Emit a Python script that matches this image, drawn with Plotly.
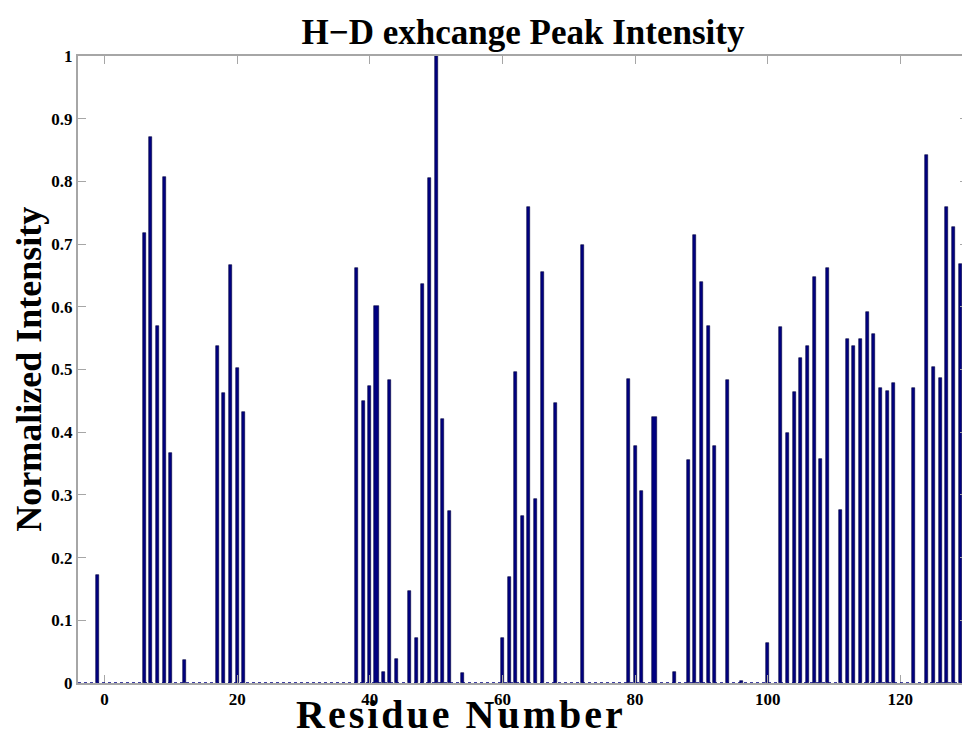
import plotly.graph_objects as go

# Residue numbers and normalized peak intensities
residues = [-1, 6, 7, 8, 9, 10, 12, 17, 18, 19, 20, 21,
            38, 39, 40, 41, 42, 43, 44, 46, 47, 48, 49, 50, 51, 52, 54,
            60, 61, 62, 63, 64, 65, 66, 68, 72, 79, 80, 81, 83, 86, 88,
            89, 90, 91, 92, 94, 96, 100, 102, 103, 104, 105, 106, 107, 108,
            109, 111, 112, 113, 114, 115, 116, 117, 118, 119, 122, 124, 125,
            126, 127, 128, 129, 130]
intensity = [0.172, 0.717, 0.871, 0.569, 0.807, 0.367, 0.036, 0.537, 0.462, 0.666, 0.502, 0.432,
             0.662, 0.449, 0.473, 0.602, 0.017, 0.483, 0.038, 0.147, 0.071, 0.637, 0.805, 1.0, 0.421, 0.274, 0.016,
             0.071, 0.169, 0.496, 0.267, 0.759, 0.293, 0.655, 0.447, 0.698, 0.485, 0.378, 0.306, 0.425, 0.017, 0.355,
             0.715, 0.640, 0.569, 0.378, 0.484, 0.003, 0.064, 0.567, 0.398, 0.464, 0.518, 0.537, 0.647, 0.357,
             0.662, 0.276, 0.548, 0.538, 0.548, 0.591, 0.557, 0.470, 0.466, 0.478, 0.470, 0.842, 0.504,
             0.487, 0.759, 0.727, 0.668, 0.267]
wide_residues = [41, 83]  # residues drawn as thicker bars in the reference

x_ticks = [0, 20, 40, 60, 80, 100, 120]
y_ticks = [0, 0.1, 0.2, 0.3, 0.4, 0.5, 0.6, 0.7, 0.8, 0.9, 1]
y_tick_labels = ["0", "0.1", "0.2", "0.3", "0.4", "0.5", "0.6", "0.7", "0.8", "0.9", "1"]

title_text = "H\u2212D exhcange Peak Intensity"
x_title = "Residue Number"
y_title = "Normalized Intensity"

FONT = "Liberation Serif, Times New Roman, serif"
AXIS_GRAY = "#a6a6a6"
widths = [0.75 if r in wide_residues else 0.45 for r in residues]

fig = go.Figure()
fig.add_trace(go.Bar(
    x=residues, y=intensity, width=widths,
    marker=dict(color="#000080", line=dict(color="#00003a", width=0.6)),
    showlegend=False,
))

# dashed baseline (zero-height bars in the original)
fig.add_shape(type="line", xref="paper", x0=0, x1=1, yref="y", y0=0, y1=0,
              line=dict(color="#000080", width=1.5, dash="3px,3px"), layer="above")

axis_common = dict(
    showline=True, linecolor=AXIS_GRAY, linewidth=2, mirror="ticks",
    ticks="inside", ticklen=8, tickwidth=1, tickcolor=AXIS_GRAY,
    showgrid=False, zeroline=False,
    tickfont=dict(family=FONT, size=17, color="black", weight="bold"),
)
fig.update_xaxes(range=[-4, 130.2], tickvals=x_ticks, ticktext=[str(t) for t in x_ticks], **axis_common)
fig.update_yaxes(range=[0, 1], tickvals=y_ticks, ticktext=y_tick_labels, **axis_common)

fig.update_layout(
    width=962, height=729,
    margin=dict(l=70, r=0, t=48, b=54),
    paper_bgcolor="white", plot_bgcolor="white",
    bargap=0,
    title=dict(text=title_text, x=0.5, xref="paper", y=1 - 24 / 729, yref="container",
               xanchor="center", yanchor="middle",
               font=dict(family=FONT, size=35, color="black", weight="bold")),
    annotations=[
        dict(text="<span style='letter-spacing:3px'>" + x_title + "</span>",
             xref="paper", yref="paper", x=0.4305, y=-0.0505,
             xanchor="center", yanchor="middle", showarrow=False,
             font=dict(family=FONT, size=40, color="black", weight="bold")),
        dict(text=y_title, xref="paper", yref="paper", x=-0.056, y=0.5,
             xanchor="center", yanchor="middle", showarrow=False, textangle=-90,
             font=dict(family=FONT, size=36, color="black", weight="bold")),
    ],
)

fig.write_html("out.html")
